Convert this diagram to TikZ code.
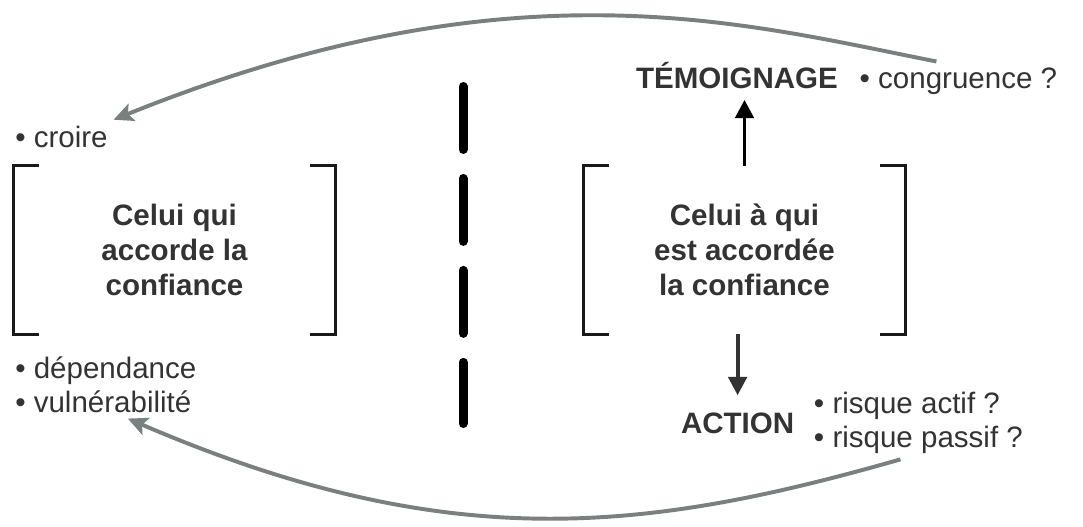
\documentclass[tikz,border=0pt]{standalone}
\usepackage{fontspec}
\setmainfont{Liberation Sans}
\usetikzlibrary{positioning,arrows.meta}
\definecolor{textgrey}{RGB}{51,51,51}
\definecolor{arcgrey}{RGB}{122,128,127}

\begin{document}
\begin{tikzpicture}[
    node distance=0.25cm,
    boxtext/.style={align=center, text=textgrey, font=\fontsize{21}{25}\selectfont\bfseries, minimum width=8.025cm, minimum height=4.2cm, inner sep=0pt},
    heading/.style={text=textgrey, font=\fontsize{21}{25}\selectfont\bfseries, inner sep=4pt},
    bullets/.style={align=left, text=textgrey, font=\fontsize{21}{24}\selectfont, inner sep=4pt},
    bracket/.style={line width=2.1pt, draw=black!90},
    arrow/.style={-{Triangle[length=13pt,width=13pt]}, line width=2.8pt},
    feedback/.style={-{Stealth[length=14pt,width=13pt,inset=3pt]}, line width=2.8pt, color=arcgrey},
    separator/.style={line width=6.4pt, line cap=round, dash pattern=on 44.8pt off 20.6pt}
]

% Background
\useasboundingbox (0,0) rectangle (27.075,13.15);

% Boxes
\node[boxtext] (giver) at (4.3625,6.9) {Celui qui\\ accorde la\\ confiance};
\node[boxtext] (receiver) at (18.6125,6.9) {Celui à qui\\ est accordée\\ la confiance};

% Brackets
\draw[bracket] ([xshift=0.625cm]giver.north west) -- (giver.north west) -- (giver.south west) -- ([xshift=0.625cm]giver.south west);
\draw[bracket] ([xshift=-0.625cm]giver.north east) -- (giver.north east) -- (giver.south east) -- ([xshift=-0.625cm]giver.south east);
\draw[bracket] ([xshift=0.625cm]receiver.north west) -- (receiver.north west) -- (receiver.south west) -- ([xshift=0.625cm]receiver.south west);
\draw[bracket] ([xshift=-0.625cm]receiver.north east) -- (receiver.north east) -- (receiver.south east) -- ([xshift=-0.625cm]receiver.south east);

% Separator
\draw[separator] (11.575,10.9875) -- (11.575,2.5625);

% Left side
\node[bullets, anchor=base west] (croire) at (0.235,9.475) {• croire};
\node[bullets, anchor=north west] (deps) at (0.235,4.375) {• dépendance\\ • vulnérabilité};

% Right side
\node[heading, anchor=base] (temoin) at (18.425,10.95) {TÉMOIGNAGE};
\node[bullets, right=0.25cm of temoin.base east, anchor=base west] (congruence) {• congruence ?};
\node[heading, anchor=base] (action) at (18.44,2.325) {ACTION};
\node[bullets, right=0.2cm of action] (risques) {• risque actif ?\\ • risque passif ?};

% Vertical arrows
\draw[arrow, shorten >=4pt] (receiver.north) -- (receiver.north |- temoin.south);
\draw[arrow, color=textgrey, shorten >=8pt] (action |- receiver.south) -- (action.north);

% Feedback arcs
\draw[feedback] ([xshift=-0.55cm]congruence.north) .. controls +(-4.825,0.95) and +(10.0,4.025) .. (croire.north east);
\draw[feedback] ([xshift=-0.45cm]risques.south) .. controls +(-6.415,-1.835) and +(7.98,-3.43) .. ([xshift=0.55cm]deps.south);

\end{tikzpicture}
\end{document}
